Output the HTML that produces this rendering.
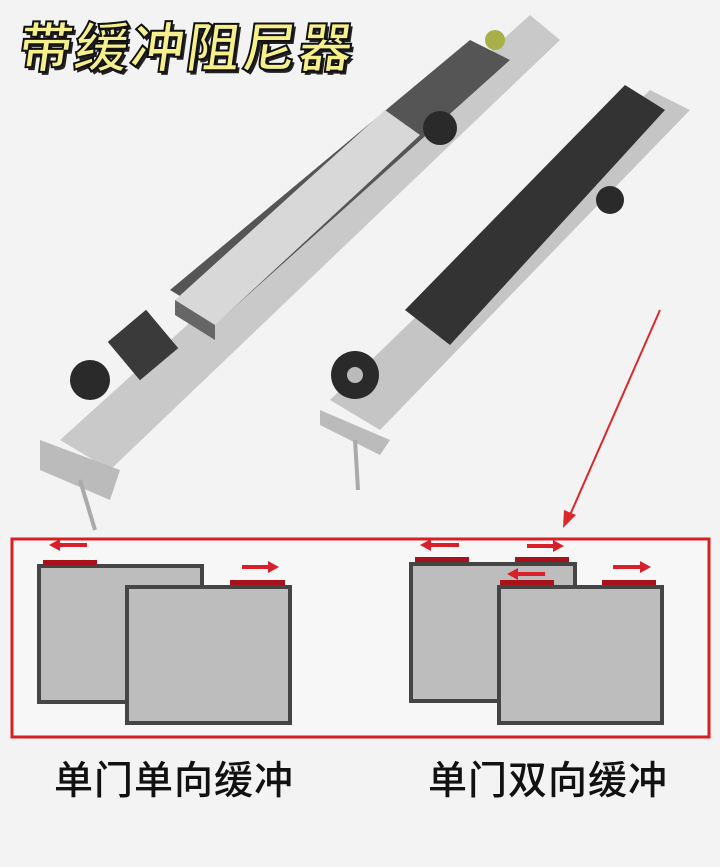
<!DOCTYPE html>
<html><head><meta charset="utf-8"><style>
html,body{margin:0;padding:0;background:#f3f3f3;}
.wrap{position:relative;width:720px;height:867px;overflow:hidden;background:#f3f3f3;}
.title{position:absolute;left:14px;top:4px;font:bold 54px "Liberation Sans","Noto Sans CJK SC",sans-serif;color:#f6f08c;letter-spacing:2px;-webkit-text-stroke:2px #111;text-shadow:3px 3px 0 #222;transform:skewX(-8deg);transform-origin:left bottom;}
.lab{position:absolute;top:750px;font:500 39px "Liberation Sans","Noto Sans CJK SC",sans-serif;color:#111;letter-spacing:1px;}
svg{position:absolute;left:0;top:0;}
</style></head><body><div class="wrap">
<svg width="720" height="867" viewBox="0 0 720 867">
<polygon points="60,440 110,470 560,40 530,15" fill="#c9c9c9"/>
<polygon points="170,290 220,320 510,60 470,40" fill="#555"/>
<polygon points="175,300 215,325 420,135 385,110" fill="#d8d8d8"/>
<polygon points="175,300 215,325 215,340 175,315" fill="#666"/>
<circle cx="90" cy="380" r="20" fill="#2a2a2a"/>
<rect x="118" y="320" width="50" height="50" fill="#3a3a3a" transform="rotate(-40 143 345)"/>
<circle cx="440" cy="128" r="17" fill="#2a2a2a"/>
<circle cx="495" cy="40" r="10" fill="#a8b04a"/>
<polygon points="40,440 120,470 110,500 40,470" fill="#bbb"/>
<line x1="80" y1="480" x2="95" y2="530" stroke="#aaa" stroke-width="4"/>
<polygon points="330,400 380,430 690,110 650,90" fill="#c5c5c5"/>
<polygon points="405,310 450,345 665,110 625,85" fill="#333"/>
<circle cx="355" cy="375" r="24" fill="#2a2a2a"/><circle cx="355" cy="375" r="8" fill="#bbb"/>
<circle cx="610" cy="200" r="14" fill="#2a2a2a"/>
<polygon points="320,410 390,440 380,455 320,425" fill="#bbb"/>
<line x1="355" y1="440" x2="358" y2="490" stroke="#aaa" stroke-width="4"/>
<line x1="660" y1="310" x2="570" y2="515" stroke="#d8282a" stroke-width="2"/>
<polygon points="563,528 564,510 576,515" fill="#d8282a"/>
<rect x="12" y="539" width="697" height="198" fill="#f7f7f7" stroke="#d62024" stroke-width="3"/>
<g fill="#bdbdbd" stroke="#454545" stroke-width="4">
<rect x="39" y="566" width="163" height="136"/>
<rect x="127" y="587" width="163" height="136"/>
<rect x="411" y="564" width="164" height="137"/>
<rect x="499" y="587" width="163" height="136"/>
</g>
<g fill="#a8121a">
<rect x="43" y="560" width="54" height="5"/>
<rect x="230" y="580" width="55" height="5"/>
<rect x="415" y="557" width="54" height="5"/>
<rect x="515" y="557" width="54" height="5"/>
<rect x="500" y="580" width="54" height="5"/>
<rect x="602" y="580" width="54" height="5"/>
</g>
<g fill="#d8202a">
<path d="M49,545 l11,-6 v4 h27 v4 h-27 v4z"/>
<path d="M279,567 l-11,-6 v4 h-26 v4 h26 v4z"/>
<path d="M420,545 l11,-6 v4 h28 v4 h-28 v4z"/>
<path d="M564,546 l-11,-6 v4 h-26 v4 h26 v4z"/>
<path d="M507,574 l11,-6 v4 h27 v4 h-27 v4z"/>
<path d="M651,567 l-11,-6 v4 h-27 v4 h27 v4z"/>
</g>
</svg>
<div class="title">带缓冲阻尼器</div>
<div class="lab" style="left:54px">单门单向缓冲</div>
<div class="lab" style="left:428px">单门双向缓冲</div>
</div></body></html>
